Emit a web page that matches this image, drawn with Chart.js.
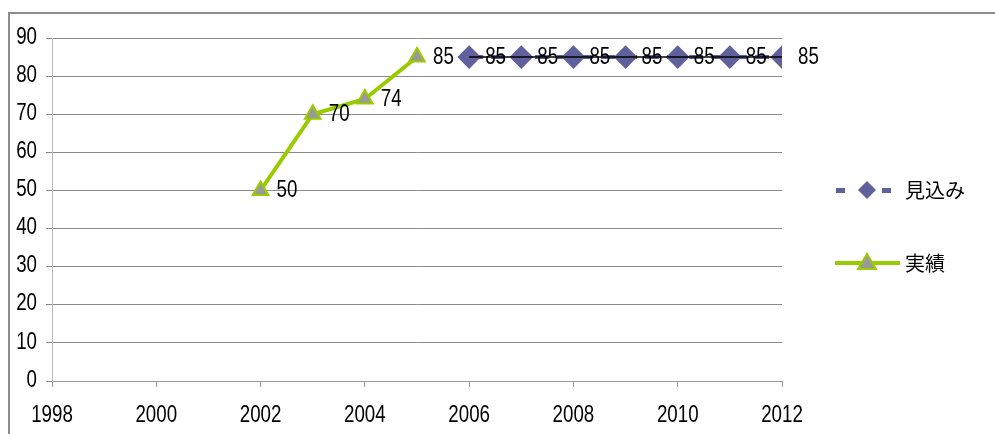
<!DOCTYPE html>
<html>
<head>
<meta charset="utf-8">
<script src="https://cdn.jsdelivr.net/npm/chart.js@4.4.1/dist/chart.umd.min.js"></script>
<style>
  html, body { margin: 0; padding: 0; background: #fff; }
  #wrap { position: relative; width: 995px; height: 434px; overflow: hidden; }
  #frame { position: absolute; left: 8px; top: 12px; width: 1000px; height: 440px;
           border-left: 2px solid #8c8c8c; border-top: 2px solid #8c8c8c; }
  canvas { position: absolute; left: 0; top: 0; }
</style>
</head>
<body>
<div id="wrap">
  <div id="frame"></div>
  <canvas id="chart" width="995" height="434"></canvas>
</div>
<script>
// data
const actualYears = [2002, 2003, 2004, 2005];
const actualValues = [50, 70, 74, 85];
const forecastYears = [2006, 2007, 2008, 2009, 2010, 2011, 2012];
const forecastValues = [85, 85, 85, 85, 85, 85, 85];
const seriesNames = ['見込み', '実績'];
const xRange = [1998, 2012];
const yRange = [0, 90];

const NUM_FONT = "24px 'Liberation Sans', Arial, sans-serif";
const JP_FONT = "20px 'Noto Sans CJK JP', sans-serif";
const NARROW = 0.78; // the digits in the picture are a narrow gothic face
const PURPLE = '#60609c';
const GREEN = '#99cc00';

const toPoints = (xs, ys) => xs.map((x, i) => ({ x, y: ys[i] }));

// Ham narrowText: ve chu so hep theo chieu ngang.
function narrowText(ctx, text, x, y, align) {
  ctx.save();
  ctx.font = NUM_FONT;
  ctx.fillStyle = '#000';
  ctx.textBaseline = 'middle';
  ctx.textAlign = align;
  ctx.translate(x, y);
  ctx.scale(NARROW, 1);
  ctx.fillText(text, 0, 0);
  ctx.restore();
}

// Ham axisLabels: ve nhan truc tu cac tick cua scale.
const axisLabels = {
  id: 'axisLabels',
  afterDraw(chart) {
    const { x, y } = chart.scales;
    x.ticks.forEach((t) => narrowText(chart.ctx, String(t.value), x.getPixelForValue(t.value), 415, 'center'));
    y.ticks.forEach((t) => narrowText(chart.ctx, String(t.value), 37, y.getPixelForValue(t.value) - 1, 'right'));
  }
};

// Ham valueLabels: ve nhan gia tri ben phai moi diem.
const valueLabels = {
  id: 'valueLabels',
  afterDatasetsDraw(chart) {
    chart.data.datasets.forEach((ds, i) => {
      if (!ds.showLabels) return;
      chart.getDatasetMeta(i).data.forEach((pt, j) => {
        narrowText(chart.ctx, String(ds.data[j].y), pt.x + 16, pt.y, 'left');
      });
    });
  }
};

// Ham sideLegend: ve chu thich ben phai.
const sideLegend = {
  id: 'sideLegend',
  afterDraw(chart) {
    const ctx = chart.ctx;
    ctx.save();
    // 見込み
    let y = 190;
    ctx.fillStyle = PURPLE;
    ctx.fillRect(836, y - 2, 9, 5);
    ctx.fillRect(882, y - 2, 9, 5);
    ctx.beginPath();
    ctx.moveTo(867, y - 9); ctx.lineTo(876, y); ctx.lineTo(867, y + 9); ctx.lineTo(858, y);
    ctx.closePath(); ctx.fill();
    // 実績
    y = 263;
    ctx.strokeStyle = GREEN; ctx.lineWidth = 4;
    ctx.beginPath(); ctx.moveTo(835, y); ctx.lineTo(900, y); ctx.stroke();
    ctx.beginPath();
    ctx.moveTo(867, y - 9); ctx.lineTo(876, y + 6); ctx.lineTo(858, y + 6); ctx.closePath();
    ctx.fillStyle = '#999'; ctx.fill();
    ctx.lineWidth = 2; ctx.stroke();
    ctx.fillStyle = '#000';
    ctx.font = JP_FONT;
    ctx.textBaseline = 'middle';
    ctx.fillText(seriesNames[0], 905, 190);
    ctx.fillText(seriesNames[1], 905, 263);
    ctx.restore();
  }
};

new Chart(document.getElementById('chart'), {
  type: 'line',
  data: {
    datasets: [
      {
        label: 'trend',
        data: toPoints(forecastYears, forecastValues),
        borderColor: '#000',
        borderWidth: 1.5,
        pointRadius: 0,
        order: 0
      },
      {
        label: seriesNames[0],
        data: toPoints(forecastYears, forecastValues),
        borderColor: PURPLE,
        borderWidth: 4,
        borderDash: [14, 8],
        pointStyle: 'rectRot',
        pointRadius: 9,
        pointBackgroundColor: PURPLE,
        pointBorderColor: PURPLE,
        showLabels: true,
        order: 1
      },
      {
        label: seriesNames[1],
        data: toPoints(actualYears, actualValues),
        borderColor: GREEN,
        borderWidth: 4,
        pointStyle: 'triangle',
        pointRadius: 9,
        pointBackgroundColor: '#999',
        pointBorderColor: GREEN,
        pointBorderWidth: 2,
        showLabels: true,
        order: 2
      }
    ]
  },
  options: {
    responsive: false,
    animation: false,
    devicePixelRatio: 1,
    layout: { padding: { top: 38, right: 213, left: 0, bottom: 0 } },
    plugins: { legend: { display: false }, tooltip: { enabled: false } },
    scales: {
      x: {
        type: 'linear',
        min: xRange[0],
        max: xRange[1],
        afterFit: (scale) => { scale.height = 53; },
        ticks: { stepSize: 2, display: false },
        grid: { drawOnChartArea: false, drawTicks: true, tickLength: 6, color: '#999' },
        border: { color: '#999' }
      },
      y: {
        min: yRange[0],
        max: yRange[1],
        afterFit: (scale) => { scale.width = 52; },
        ticks: { stepSize: 10, display: false },
        grid: { color: '#8a8a8a', tickLength: 6 },
        border: { color: '#bbb' }
      }
    }
  },
  plugins: [valueLabels, axisLabels, sideLegend]
});
</script>
</body>
</html>
